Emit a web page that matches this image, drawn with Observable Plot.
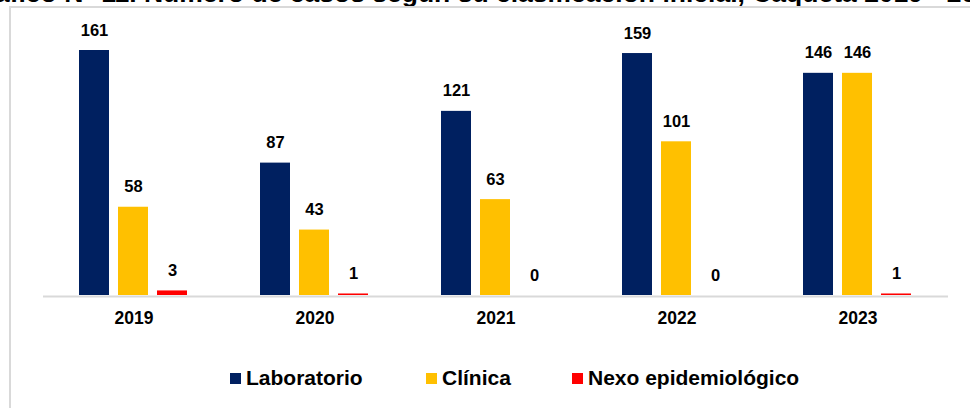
<!DOCTYPE html>
<html>
<head>
<meta charset="utf-8">
<script src="https://cdn.jsdelivr.net/npm/d3@7"></script>
<script src="https://cdn.jsdelivr.net/npm/@observablehq/plot@0.6"></script>
<style>
  html, body { margin: 0; padding: 0; background: #fff; }
  body { width: 970px; height: 408px; overflow: hidden; position: relative; font-family: "Liberation Sans", Arial, sans-serif; }
  #title { position: absolute; left: -36px; top: -19px; font-size: 26.5px; line-height: 24px; font-weight: bold; white-space: nowrap; color: #000; }
  #frame { position: absolute; left: 9px; top: 6px; width: 1000px; height: 500px; border: 2px solid #d9d9d9; box-sizing: border-box; }
  #chart { position: absolute; left: 0; top: 0; }
  #legend { position: absolute; top: 366px; left: 0; width: 970px; font-size: 21px; line-height: 24px; font-weight: bold; color: #000; }
  .item { position: absolute; top: 0; white-space: nowrap; }
  .sw { display: inline-block; width: 11px; height: 11px; margin-right: 5px; vertical-align: 1px; }
</style>
</head>
<body>
<div id="title">Gráfico N° 11. Número de casos según su clasificación inicial, Caquetá 2019 - 2023</div>
<div id="frame"></div>
<div id="chart"></div>
<div id="legend"></div>
<script>
const years = ["2019", "2020", "2021", "2022", "2023"];
const series = ["Laboratorio", "Clínica", "Nexo epidemiológico"];
const laboratorio = [161, 87, 121, 159, 146];
const clinica = [58, 43, 63, 101, 146];
const nexo = [3, 1, 0, 0, 1];
const colors = ["#002060", "#FFC000", "#FF0000"];

const values = [laboratorio, clinica, nexo];
const data = years.flatMap((y, i) => series.map((s, j) => ({year: y, serie: s, value: values[j][i]})));

const chart = Plot.plot({
  width: 970,
  height: 345,
  marginLeft: 41,
  marginRight: 20,
  marginTop: 50,
  marginBottom: 50,
  style: {fontFamily: "'Liberation Sans', Arial, sans-serif", fontSize: "17.5px", fontWeight: "bold", color: "#000", background: "transparent"},
  fx: {domain: years, padding: 0, label: null, axis: "bottom", tickSize: 0, tickPadding: 16},
  x: {domain: series, paddingInner: 0.225, paddingOuter: 0.8875, axis: null},
  y: {domain: [0, 161], axis: null},
  color: {domain: series, range: colors},
  marks: [
    Plot.ruleY([0], {stroke: "#d9d9d9", strokeWidth: 2, dy: 1}),
    Plot.barY(data, {fx: "year", x: "serie", y: "value", fill: "serie", inset: 0}),
    Plot.text(data, {fx: "year", x: "serie", y: "value", text: d => String(d.value), dy: -15, lineAnchor: "bottom", fontWeight: "bold", fontSize: 16.5, fill: "#000"})
  ]
});
document.getElementById("chart").appendChild(chart);

const legend = document.getElementById("legend");
const lefts = [230, 426, 572];
series.forEach((s, i) => {
  const it = document.createElement("div");
  it.className = "item";
  it.style.left = lefts[i] + "px";
  it.innerHTML = `<span class="sw" style="background:${colors[i]}"></span>${s}`;
  legend.appendChild(it);
});
</script>
</body>
</html>
